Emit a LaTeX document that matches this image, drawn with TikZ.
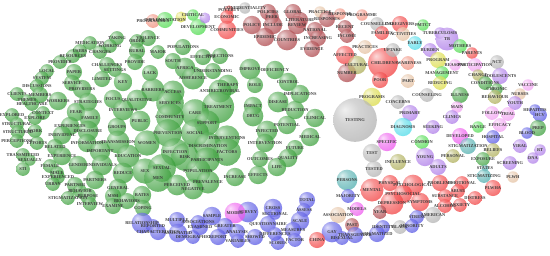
\documentclass[tikz,border=0pt]{standalone}
\usepackage{fontspec}
\newfontfamily\lblfont{Liberation Serif}
\definecolor{txtGray}{HTML}{3C3C3C}
\definecolor{grn}{RGB}{40,150,40}
\definecolor{lgrn}{RGB}{60,215,60}
\definecolor{dred}{RGB}{165,50,55}
\definecolor{red}{RGB}{240,45,45}
\definecolor{salm}{RGB}{240,130,110}
\definecolor{blu}{RGB}{70,70,225}
\definecolor{purp}{RGB}{165,110,230}
\definecolor{pink}{RGB}{240,150,240}
\definecolor{mag}{RGB}{235,70,235}
\definecolor{gry}{RGB}{170,170,170}
\definecolor{olv}{RGB}{165,165,70}
\definecolor{ylw}{RGB}{215,215,50}
\definecolor{cyn}{RGB}{60,215,230}
\definecolor{teal}{RGB}{60,165,165}
\definecolor{pch}{RGB}{225,185,150}
\pgfdeclareradialshading[bcol]{bubble}{\pgfpoint{-12bp}{12bp}}{color(0bp)=(bcol!25!white); color(14bp)=(bcol!70!white); color(36bp)=(bcol); color(70bp)=(bcol!80!black)}

% x / y / radius / colour / word
\def\bubbles{117/38/6/grn/TAKING, 148/38/7/grn/VIOLENCE, 90/43/6/grn/MEDICATION,
  110/46/6/grn/WORKING, 137/41/6/grn/ORDER, 137/51/7/grn/RURAL, 80/51/6/grn/USERS,
  100/52/6/grn/CHANGES, 158/52/6/grn/MAJOR, 183/47/7/grn/POPULATIONS,
  73/56/6/grn/RESOURCES, 60/62/6/grn/PROVIDER, 203/57/7/grn/EFFECTIVE,
  220/56/7/grn/INFECTIONS, 173/61/7/grn/SOUTH, 135/62/7/grn/PROVIDE,
  107/65/7/grn/CHALLENGES, 115/70/6/grn/SETTINGS, 185/68/9/grn/AFRICA,
  213/71/7/grn/UNDERSTANDING, 250/69/9/grn/IMPROVE, 275/70/8/grn/DEFICIENCY,
  47/71/6/grn/LOCAL, 74/72/7/grn/PAPER, 42/78/6/grn/SYSTEM, 102/79/7/grn/LIMITED,
  123/82/8/grn/KEY, 150/73/7/grn/LACK, 193/78/10/grn/ADHERENCE, 228/85/9/grn/THERAPY,
  220/91/10/grn/ANTIRETROVIRAL, 255/85/7/grn/ROLE, 288/82/8/grn/CONTROL,
  72/83/7/grn/SERVICE, 37/86/6/grn/DISCUSSIONS, 82/89/8/grn/PROVIDERS,
  153/90/10/grn/BARRIERS, 173/92/10/grn/ACCESS, 17/94/6/grn/CLIENTS,
  40/95/7/grn/MEMBERS, 27/100/5/grn/THEMES, 32/104/6/grn/HEALTHCARE,
  58/101/8/grn/WORKERS, 88/102/8/grn/STRATEGIES, 113/99/8/grn/FOCUS,
  137/100/9/grn/QUALITATIVE, 170/103/12/grn/SERVICES, 218/107/14/grn/TREATMENT,
  253/106/8/grn/IMPACT, 300/94/8/grn/IMPLICATIONS, 278/102/9/grn/DISEASE,
  295/110/8/grn/REDUCTION, 315/118/8/grn/CLINICAL, 43/113/6/grn/CONTEXT,
  76/112/8/grn/FEAR, 123/110/9/grn/INTERVIEWS, 195/113/12/grn/CARE,
  253/116/9/grn/DRUG, 12/115/6/grn/EXPLORED, 35/118/6/grn/EXPLORE,
  90/118/9/grn/FAMILY, 140/121/9/grn/PUBLIC, 170/117/12/grn/COMMUNITY,
  207/123/11/grn/SUPPORT, 287/125/8/grn/POTENTIAL, 17/124/6/grn/STRUCTURAL,
  70/126/8/grn/EXPERIENCES, 117/127/8/grn/GROUPS, 18/132/6/grn/STRUCTURED,
  35/131/6/grn/WORK, 62/135/8/grn/INDIVIDUAL, 88/131/9/grn/DISCLOSURE,
  267/131/9/grn/INFECTED, 17/141/6/grn/PERCEPTIONS, 37/143/6/grn/EFFORTS,
  87/143/8/grn/INFORMATION, 118/142/10/grn/TRANSMISSION, 147/143/11/grn/WOMEN,
  168/133/12/grn/PREVENTION, 195/133/12/grn/SOCIAL, 227/138/11/grn/INTERVENTIONS,
  310/137/8/grn/MEDICAL, 265/143/8/grn/INTERVENTION, 55/147/7/grn/RELATED,
  100/151/9/grn/IMPORTANT, 208/146/12/grn/DISCRIMINATION, 175/152/12/grn/INFECTION,
  227/152/12/grn/FACTORS, 295/148/7/grn/FUTURE, 23/155/6/grn/TRANSMITTED,
  30/160/5/grn/SEXUALLY, 62/156/8/grn/EXPERIENCE, 128/156/10/grn/EDUCATION,
  185/157/12/grn/RISK, 207/160/11/grn/PARTICIPANTS, 260/159/7/grn/OUTCOMES,
  288/158/8/grn/QUALITY, 277/167/8/grn/LIFE, 50/166/6/grn/FEMALE, 78/165/8/grn/GENDER,
  102/165/9/grn/INDIVIDUALS, 23/169/6/grn/STI, 145/171/11/grn/SEX,
  162/168/12/grn/SEXUAL, 123/173/9/grn/REDUCE, 198/171/11/grn/POPULATION,
  57/173/6/grn/MALE, 58/177/6/grn/EXPERIENCED, 95/180/8/grn/PARTNERS,
  158/178/12/grn/MEN, 235/177/8/grn/INCREASE, 258/175/8/grn/EFFECTS,
  208/182/10/grn/PREVALENCE, 53/184/6/grn/URBAN, 75/185/7/grn/PARTNER,
  118/188/8/grn/GENERAL, 177/185/9/grn/PERCEIVED, 193/189/9/grn/NEGATIVE,
  80/191/6/grn/BEHAVIOR, 88/196/7/grn/PURPOSE, 68/198/6/grn/STIGMATIZATION,
  113/196/7/grn/MSM, 142/195/8/grn/RATES, 127/201/7/grn/BEHAVIORS,
  90/204/6/grn/INTERVIEW, 113/206/7/grn/EXAMINE, 143/208/7/grn/COPING,
  % top band
  153/21/6/salm/PROGRAMMES, 165/20/7/lgrn/IMPLEMENTATION, 193/15/5/lgrn/CRITICAL,
  198/27/7/lgrn/DEVELOPMENT, 229/10/4/red/POVERTY, 227/17/6/red/ECONOMIC,
  227/30/8/red/COMMUNITIES, 245/8/5/gry/CONFIDENTIALITY,
  268/12/7/dred/POLICIES, 272/17/6/dred/PEER, 293/12/7/dred/GLOBAL,
  300/20/7/dred/LITERATURE, 320/12/5/pch/PRACTICE, 327/19/7/dred/RESPONSES,
  340/14/5/salm/RESPONSE, 252/25/8/dred/POLICY, 273/25/8/dred/INCLUDE,
  297/25/8/dred/REVIEW, 315/30/7/dred/NATIONAL, 345/27/6/dred/RECENT,
  347/36/6/dred/INCOME, 265/37/8/dred/EPIDEMIC, 287/40/9/dred/COUNTRIES,
  318/38/7/dred/INCREASING, 312/49/7/dred/EVIDENCE, 347/73/8/dred/NUMBER,
  345/55/8/red/AFFECTED, 383/63/13/red/CHILDREN, 380/80/7/red/POOR,
  % right side
  377/24/6/gry/COUNSELLING, 382/33/6/red/FAMILIES, 400/24/7/red/CAREGIVERS,
  403/34/6/pch/ACTIVITIES, 423/25/5/lgrn/PMTCT, 362/15/5/salm/PROGRAMME,
  365/47/6/pch/PRACTICES, 393/50/6/gry/UPTAKE, 357/65/8/olv/CULTURAL,
  408/63/6/salm/AWARENESS, 408/81/6/pch/PART, 415/43/6/cyn/EARLY,
  430/50/6/purp/BURDEN, 440/33/5/purp/TUBERCULOSIS, 447/39/10/purp/TB,
  460/46/6/lgrn/MOTHERS, 472/53/5/red/PARENTS, 438/60/7/ylw/PROGRAM,
  455/65/5/pink/REASONS, 475/65/6/pink/PARTICIPATION, 497/62/6/gry/NCT,
  442/73/6/lgrn/MANAGEMENT, 478/75/5/olv/CHANGE, 500/76/7/purp/ADOLESCENTS,
  440/83/6/ylw/REDUCING, 485/83/6/grn/CONDITIONS, 497/89/5/grn/CHRONIC,
  528/85/5/pink/VACCINE, 495/97/6/olv/BEHAVIOUR, 520/94/5/pch/NURSES,
  515/103/6/purp/YOUTH, 535/110/5/blu/HEPATITIS, 540/115/6/blu/HCV,
  460/95/7/grn/ILLNESS, 427/95/6/gry/COUNSELING, 457/107/5/pink/MAIN,
  452/117/6/purp/CLINICS, 492/113/6/pink/FOLLOW, 508/114/6/pink/TRIAL,
  372/97/8/ylw/PROGRAMS, 398/102/6/gry/CONCERNS, 410/113/7/purp/PRIMARY,
  355/120/19/gry/TESTING, 403/127/8/cyn/DIAGNOSIS, 433/127/6/purp/SEEKING,
  478/127/5/lgrn/RANGE, 500/125/6/pink/EFFICACY, 538/128/7/grn/PREP,
  527/133/5/blu/BLOOD, 493/137/6/blu/HOSPITAL, 460/136/7/mag/DEVELOPED,
  387/142/8/mag/SPECIFIC, 422/142/6/lgrn/COMMON, 468/146/7/teal/STIGMATIZATION,
  493/150/6/olv/BELIEFS, 520/146/6/purp/VIRAL, 540/150/5/purp/RT,
  372/153/8/gry/TEST, 425/157/8/purp/YOUNG, 453/156/6/olv/PERSONAL,
  483/159/6/grn/EXPOSURE, 533/158/5/purp/DNA, 510/163/6/purp/SCREENING,
  398/162/7/olv/INFLUENCE, 438/167/7/purp/ADULTS, 374/169/7/gry/TESTED,
  485/168/3/teal/STATES, 484/176/6/teal/STIGMATIZING, 513/177/5/pch/PLWH,
  % lower right
  347/180/9/teal/PERSONS, 372/190/10/red/MENTAL, 390/183/7/red/PHYSICAL,
  413/185/9/red/PSYCHOLOGICAL, 403/194/8/red/PSYCHOSOCIAL, 392/203/10/red/DEPRESSION,
  420/202/8/red/SYMPTOMS, 440/183/7/red/PROBLEMS, 462/183/6/red/EMOTIONAL,
  458/191/6/red/ABUSE, 445/196/6/red/SUBSTANCE, 475/198/6/red/DISTRESS,
  445/206/6/red/ALCOHOL, 460/205/6/red/ANXIETY, 493/188/7/red/PLWHA,
  348/196/6/blu/MAJORITY, 357/209/6/mag/MODELS, 380/212/6/dred/YEAR,
  433/215/7/gry/AMERICAN, 417/217/6/blu/STRESS, 338/215/7/pch/ASSOCIATION,
  352/225/6/dred/PAST, 400/227/6/gry/BLACK, 412/226/6/blu/MINORITY,
  383/227/6/blu/IDENTITY, 332/232/9/blu/GAY, 355/235/7/blu/TRANSGENDER,
  342/238/6/blu/BISEXUAL, 377/234/7/blu/STIGMATIZED, 317/240/7/red/CHINA,
  % bottom band
  307/200/7/blu/TOTAL, 304/210/6/blu/ASSESS, 300/221/8/blu/SCALE,
  293/230/7/blu/MEASURES, 295/240/6/blu/FACTOR, 278/243/6/blu/SCORES,
  268/224/7/blu/QUESTIONNAIRE, 273/208/8/blu/CROSS, 275/214/5/blu/SECTIONAL,
  248/212/9/blu/SURVEY, 235/213/9/mag/MODEL, 212/216/8/blu/SAMPLE,
  225/226/7/blu/GREATER, 237/232/7/blu/ANALYSIS, 255/237/7/blu/SHOWED,
  275/234/6/blu/DIFFERENCES, 238/241/6/blu/VARIABLES, 218/237/7/blu/REPORT,
  193/237/6/blu/DEMOGRAPHIC, 200/227/7/blu/EXAMINED, 198/222/6/blu/ASSOCIATIONS,
  177/220/7/blu/MULTIPLE, 142/223/9/blu/RELATIONSHIP, 153/226/6/blu/REPORTED,
  158/232/7/blu/CHARACTERISTICS, 178/233/8/blu/ASSOCIATED}

\begin{document}
\begin{tikzpicture}[x=1pt, y=-1pt,
    bub/.style={circle, inner sep=0pt, draw=none, shade, shading=bubble,
                fill opacity=0.72, /utils/exec={\colorlet{bcol}{#1}}},
    lbl/.style={inner sep=0pt, text=txtGray,
                font=\lblfont\bfseries\fontsize{4.4}{4.4}\selectfont},
  ]
  \useasboundingbox (0,0) rectangle (550,255);

  % bubbles first, words on top
  \foreach \x/\y/\r/\c/\t in \bubbles
    \node[bub=\c, minimum size=\r*2.3pt] (b-\t) at (\x,\y) {};
  \node[bub=ylw, minimum size=11pt] (b-yellow) at (181,17) {};
  \node[bub=purp, minimum size=11pt] (b-violet) at (205,18) {};

  \foreach \x/\y/\r/\c/\t in \bubbles
    \node[lbl] (t-\t) at (\x,\y) {\t};
\end{tikzpicture}
\end{document}
